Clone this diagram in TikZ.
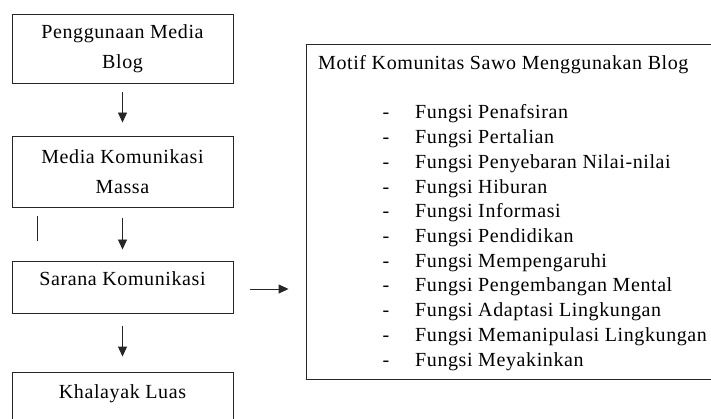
\documentclass[tikz,border=0pt]{standalone}
\usepackage{fontspec}
\setmainfont{Liberation Serif}[LetterSpace=3]
\usetikzlibrary{arrows.meta,positioning}

\tikzset{
  kotak/.style={draw=black!85, line width=0.9pt, minimum width=221pt, inner sep=0pt,
    font=\fontsize{20}{30}\selectfont, align=center},
  panah/.style={draw=black!85, line width=0.9pt, -{Triangle[length=10pt,width=9pt]}},
  garis/.style={draw=black!85, line width=0.9pt},
  isi/.style={font=\fontsize{20}{24}\selectfont, inner sep=0pt},
}

\begin{document}
\begin{tikzpicture}[x=1pt,y=-1pt]
\useasboundingbox (0,0) rectangle (711,419);
% kolom kiri
\node[kotak, minimum height=69pt] (pakai) at (122.5,48.5) {Penggunaan Media\\Blog};
\node[kotak, minimum height=71pt] (massa) at (122.5,171.5) {Media Komunikasi\\Massa};
\node[kotak, minimum height=52pt, text height=13pt, text depth=15pt] (sarana) at (122.5,287) {Sarana Komunikasi};
\node[kotak, minimum height=52pt, text height=13pt, text depth=13pt] (khalayak) at (122.5,398) {Khalayak Luas};
\coordinate (garisA) at (37,216);
\coordinate (garisB) at (37,241);
\draw[garis] (garisA) -- (garisB);
\draw[panah, shorten <=9pt, shorten >=13pt] (pakai) -- (massa);
\draw[panah, shorten <=11pt, shorten >=11pt] (massa) -- (sarana);
\draw[panah, shorten <=13pt, shorten >=15pt] (sarana) -- (khalayak);
% kotak motif
\node[garis, minimum width=406pt, minimum height=335pt] (motif) at (509,211.5) {};
\draw[panah, shorten <=17pt, shorten >=17pt] ([yshift=-2pt]sarana.east) -- ([yshift=-2pt]sarana.east -| motif.west);
\node[isi, anchor=base west] (judul) at (318,70) {Motif Komunitas Sawo Menggunakan Blog};
\foreach \f [count=\i from 0] in {Penafsiran,Pertalian,Penyebaran Nilai-nilai,Hiburan,Informasi,
    Pendidikan,Mempengaruhi,Pengembangan Mental,Adaptasi Lingkungan,Memanipulasi Lingkungan,Meyakinkan} {
  \node[isi, anchor=base] (strip\i) at (386,119+24.7*\i) {-};
  \node[isi, anchor=base west] (fungsi\i) at (415,119+24.7*\i) {Fungsi \f};
}
\end{tikzpicture}
\end{document}
